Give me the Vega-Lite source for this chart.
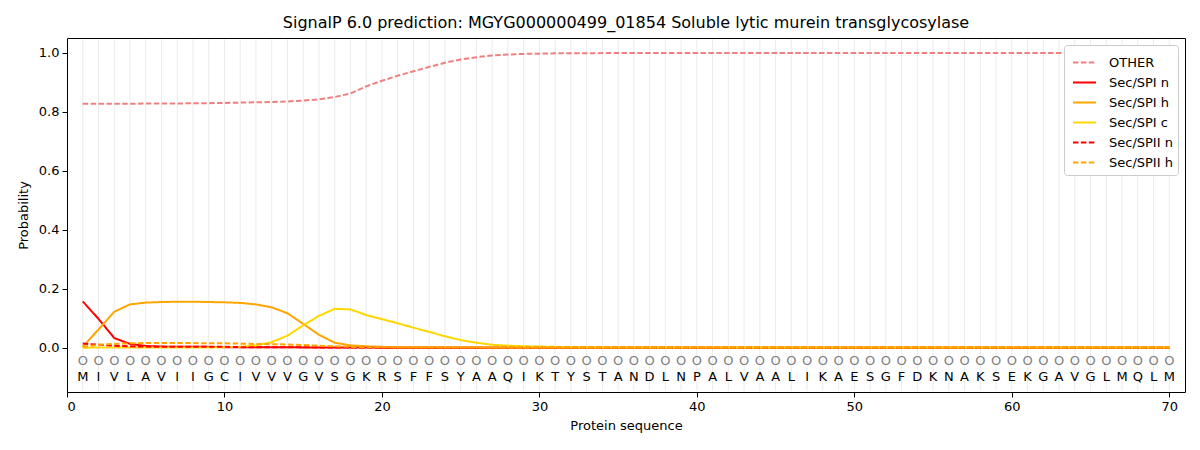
{
  "$schema": "https://vega.github.io/schema/vega-lite/v6.json",
  "width": 1118,
  "height": 354,
  "autosize": {"type": "none"},
  "padding": {"left": 67, "top": 38, "right": 15, "bottom": 58},
  "title": {"text": "SignalP 6.0 prediction: MGYG000000499_01854 Soluble lytic murein transglycosylase"},
  "data": {
    "values": [
      {"pos": 1, "aa": "M", "OTHER": 0.827, "Sec/SPI n": 0.157, "Sec/SPI h": 0.003, "Sec/SPI c": 0.0, "Sec/SPII n": 0.014, "Sec/SPII h": 0.003},
      {"pos": 2, "aa": "I", "OTHER": 0.827, "Sec/SPI n": 0.098, "Sec/SPI h": 0.062, "Sec/SPI c": 0.001, "Sec/SPII n": 0.01, "Sec/SPII h": 0.01},
      {"pos": 3, "aa": "V", "OTHER": 0.827, "Sec/SPI n": 0.033, "Sec/SPI h": 0.122, "Sec/SPI c": 0.001, "Sec/SPII n": 0.007, "Sec/SPII h": 0.013},
      {"pos": 4, "aa": "L", "OTHER": 0.827, "Sec/SPI n": 0.013, "Sec/SPI h": 0.147, "Sec/SPI c": 0.001, "Sec/SPII n": 0.005, "Sec/SPII h": 0.015},
      {"pos": 5, "aa": "A", "OTHER": 0.828, "Sec/SPI n": 0.006, "Sec/SPI h": 0.153, "Sec/SPI c": 0.001, "Sec/SPII n": 0.004, "Sec/SPII h": 0.016},
      {"pos": 6, "aa": "V", "OTHER": 0.828, "Sec/SPI n": 0.004, "Sec/SPI h": 0.155, "Sec/SPI c": 0.001, "Sec/SPII n": 0.003, "Sec/SPII h": 0.016},
      {"pos": 7, "aa": "I", "OTHER": 0.828, "Sec/SPI n": 0.003, "Sec/SPI h": 0.156, "Sec/SPI c": 0.001, "Sec/SPII n": 0.003, "Sec/SPII h": 0.016},
      {"pos": 8, "aa": "I", "OTHER": 0.829, "Sec/SPI n": 0.003, "Sec/SPI h": 0.156, "Sec/SPI c": 0.001, "Sec/SPII n": 0.003, "Sec/SPII h": 0.016},
      {"pos": 9, "aa": "G", "OTHER": 0.829, "Sec/SPI n": 0.003, "Sec/SPI h": 0.155, "Sec/SPI c": 0.001, "Sec/SPII n": 0.003, "Sec/SPII h": 0.015},
      {"pos": 10, "aa": "C", "OTHER": 0.83, "Sec/SPI n": 0.002, "Sec/SPI h": 0.154, "Sec/SPI c": 0.002, "Sec/SPII n": 0.003, "Sec/SPII h": 0.015},
      {"pos": 11, "aa": "I", "OTHER": 0.831, "Sec/SPI n": 0.002, "Sec/SPI h": 0.152, "Sec/SPI c": 0.003, "Sec/SPII n": 0.002, "Sec/SPII h": 0.014},
      {"pos": 12, "aa": "V", "OTHER": 0.832, "Sec/SPI n": 0.002, "Sec/SPI h": 0.147, "Sec/SPI c": 0.008, "Sec/SPII n": 0.002, "Sec/SPII h": 0.013},
      {"pos": 13, "aa": "V", "OTHER": 0.833, "Sec/SPI n": 0.002, "Sec/SPI h": 0.137, "Sec/SPI c": 0.019, "Sec/SPII n": 0.002, "Sec/SPII h": 0.012},
      {"pos": 14, "aa": "V", "OTHER": 0.835, "Sec/SPI n": 0.002, "Sec/SPI h": 0.117, "Sec/SPI c": 0.041, "Sec/SPII n": 0.002, "Sec/SPII h": 0.011},
      {"pos": 15, "aa": "G", "OTHER": 0.838, "Sec/SPI n": 0.001, "Sec/SPI h": 0.081, "Sec/SPI c": 0.076, "Sec/SPII n": 0.002, "Sec/SPII h": 0.009},
      {"pos": 16, "aa": "V", "OTHER": 0.842, "Sec/SPI n": 0.001, "Sec/SPI h": 0.044, "Sec/SPI c": 0.108, "Sec/SPII n": 0.001, "Sec/SPII h": 0.007},
      {"pos": 17, "aa": "S", "OTHER": 0.85, "Sec/SPI n": 0.001, "Sec/SPI h": 0.017, "Sec/SPI c": 0.132, "Sec/SPII n": 0.001, "Sec/SPII h": 0.005},
      {"pos": 18, "aa": "G", "OTHER": 0.862, "Sec/SPI n": 0.001, "Sec/SPI h": 0.008, "Sec/SPI c": 0.13, "Sec/SPII n": 0.001, "Sec/SPII h": 0.003},
      {"pos": 19, "aa": "K", "OTHER": 0.886, "Sec/SPI n": 0.001, "Sec/SPI h": 0.005, "Sec/SPI c": 0.111, "Sec/SPII n": 0.001, "Sec/SPII h": 0.002},
      {"pos": 20, "aa": "R", "OTHER": 0.905, "Sec/SPI n": 0.0, "Sec/SPI h": 0.003, "Sec/SPI c": 0.097, "Sec/SPII n": 0.0, "Sec/SPII h": 0.002},
      {"pos": 21, "aa": "S", "OTHER": 0.922, "Sec/SPI n": 0.0, "Sec/SPI h": 0.002, "Sec/SPI c": 0.083, "Sec/SPII n": 0.0, "Sec/SPII h": 0.001},
      {"pos": 22, "aa": "F", "OTHER": 0.937, "Sec/SPI n": 0.0, "Sec/SPI h": 0.002, "Sec/SPI c": 0.068, "Sec/SPII n": 0.0, "Sec/SPII h": 0.001},
      {"pos": 23, "aa": "F", "OTHER": 0.952, "Sec/SPI n": 0.0, "Sec/SPI h": 0.002, "Sec/SPI c": 0.054, "Sec/SPII n": 0.0, "Sec/SPII h": 0.001},
      {"pos": 24, "aa": "S", "OTHER": 0.966, "Sec/SPI n": 0.0, "Sec/SPI h": 0.001, "Sec/SPI c": 0.039, "Sec/SPII n": 0.0, "Sec/SPII h": 0.001},
      {"pos": 25, "aa": "Y", "OTHER": 0.977, "Sec/SPI n": 0.0, "Sec/SPI h": 0.001, "Sec/SPI c": 0.026, "Sec/SPII n": 0.0, "Sec/SPII h": 0.001},
      {"pos": 26, "aa": "A", "OTHER": 0.985, "Sec/SPI n": 0.0, "Sec/SPI h": 0.001, "Sec/SPI c": 0.017, "Sec/SPII n": 0.0, "Sec/SPII h": 0.001},
      {"pos": 27, "aa": "A", "OTHER": 0.991, "Sec/SPI n": 0.0, "Sec/SPI h": 0.001, "Sec/SPI c": 0.01, "Sec/SPII n": 0.0, "Sec/SPII h": 0.0},
      {"pos": 28, "aa": "Q", "OTHER": 0.994, "Sec/SPI n": 0.0, "Sec/SPI h": 0.001, "Sec/SPI c": 0.007, "Sec/SPII n": 0.0, "Sec/SPII h": 0.0},
      {"pos": 29, "aa": "I", "OTHER": 0.996, "Sec/SPI n": 0.0, "Sec/SPI h": 0.001, "Sec/SPI c": 0.005, "Sec/SPII n": 0.0, "Sec/SPII h": 0.0},
      {"pos": 30, "aa": "K", "OTHER": 0.997, "Sec/SPI n": 0.0, "Sec/SPI h": 0.001, "Sec/SPI c": 0.004, "Sec/SPII n": 0.0, "Sec/SPII h": 0.0},
      {"pos": 31, "aa": "T", "OTHER": 0.998, "Sec/SPI n": 0.0, "Sec/SPI h": 0.001, "Sec/SPI c": 0.003, "Sec/SPII n": 0.0, "Sec/SPII h": 0.0},
      {"pos": 32, "aa": "Y", "OTHER": 0.998, "Sec/SPI n": 0.0, "Sec/SPI h": 0.001, "Sec/SPI c": 0.002, "Sec/SPII n": 0.0, "Sec/SPII h": 0.0},
      {"pos": 33, "aa": "S", "OTHER": 0.998, "Sec/SPI n": 0.0, "Sec/SPI h": 0.001, "Sec/SPI c": 0.002, "Sec/SPII n": 0.0, "Sec/SPII h": 0.0},
      {"pos": 34, "aa": "T", "OTHER": 0.999, "Sec/SPI n": 0.0, "Sec/SPI h": 0.001, "Sec/SPI c": 0.002, "Sec/SPII n": 0.0, "Sec/SPII h": 0.0},
      {"pos": 35, "aa": "A", "OTHER": 0.999, "Sec/SPI n": 0.0, "Sec/SPI h": 0.001, "Sec/SPI c": 0.001, "Sec/SPII n": 0.0, "Sec/SPII h": 0.0},
      {"pos": 36, "aa": "N", "OTHER": 0.999, "Sec/SPI n": 0.0, "Sec/SPI h": 0.001, "Sec/SPI c": 0.001, "Sec/SPII n": 0.0, "Sec/SPII h": 0.0},
      {"pos": 37, "aa": "D", "OTHER": 0.999, "Sec/SPI n": 0.0, "Sec/SPI h": 0.001, "Sec/SPI c": 0.001, "Sec/SPII n": 0.0, "Sec/SPII h": 0.0},
      {"pos": 38, "aa": "L", "OTHER": 0.999, "Sec/SPI n": 0.0, "Sec/SPI h": 0.001, "Sec/SPI c": 0.001, "Sec/SPII n": 0.0, "Sec/SPII h": 0.0},
      {"pos": 39, "aa": "N", "OTHER": 0.999, "Sec/SPI n": 0.0, "Sec/SPI h": 0.001, "Sec/SPI c": 0.001, "Sec/SPII n": 0.0, "Sec/SPII h": 0.0},
      {"pos": 40, "aa": "P", "OTHER": 0.999, "Sec/SPI n": 0.0, "Sec/SPI h": 0.001, "Sec/SPI c": 0.001, "Sec/SPII n": 0.0, "Sec/SPII h": 0.0},
      {"pos": 41, "aa": "A", "OTHER": 0.999, "Sec/SPI n": 0.0, "Sec/SPI h": 0.001, "Sec/SPI c": 0.001, "Sec/SPII n": 0.0, "Sec/SPII h": 0.0},
      {"pos": 42, "aa": "L", "OTHER": 0.999, "Sec/SPI n": 0.0, "Sec/SPI h": 0.001, "Sec/SPI c": 0.001, "Sec/SPII n": 0.0, "Sec/SPII h": 0.0},
      {"pos": 43, "aa": "V", "OTHER": 0.999, "Sec/SPI n": 0.0, "Sec/SPI h": 0.001, "Sec/SPI c": 0.001, "Sec/SPII n": 0.0, "Sec/SPII h": 0.0},
      {"pos": 44, "aa": "A", "OTHER": 0.999, "Sec/SPI n": 0.0, "Sec/SPI h": 0.001, "Sec/SPI c": 0.001, "Sec/SPII n": 0.0, "Sec/SPII h": 0.0},
      {"pos": 45, "aa": "A", "OTHER": 0.999, "Sec/SPI n": 0.0, "Sec/SPI h": 0.001, "Sec/SPI c": 0.001, "Sec/SPII n": 0.0, "Sec/SPII h": 0.0},
      {"pos": 46, "aa": "L", "OTHER": 0.999, "Sec/SPI n": 0.0, "Sec/SPI h": 0.001, "Sec/SPI c": 0.001, "Sec/SPII n": 0.0, "Sec/SPII h": 0.0},
      {"pos": 47, "aa": "I", "OTHER": 0.999, "Sec/SPI n": 0.0, "Sec/SPI h": 0.001, "Sec/SPI c": 0.001, "Sec/SPII n": 0.0, "Sec/SPII h": 0.0},
      {"pos": 48, "aa": "K", "OTHER": 0.999, "Sec/SPI n": 0.0, "Sec/SPI h": 0.001, "Sec/SPI c": 0.001, "Sec/SPII n": 0.0, "Sec/SPII h": 0.0},
      {"pos": 49, "aa": "A", "OTHER": 0.999, "Sec/SPI n": 0.0, "Sec/SPI h": 0.001, "Sec/SPI c": 0.001, "Sec/SPII n": 0.0, "Sec/SPII h": 0.0},
      {"pos": 50, "aa": "E", "OTHER": 0.999, "Sec/SPI n": 0.0, "Sec/SPI h": 0.001, "Sec/SPI c": 0.001, "Sec/SPII n": 0.0, "Sec/SPII h": 0.0},
      {"pos": 51, "aa": "S", "OTHER": 0.999, "Sec/SPI n": 0.0, "Sec/SPI h": 0.001, "Sec/SPI c": 0.001, "Sec/SPII n": 0.0, "Sec/SPII h": 0.0},
      {"pos": 52, "aa": "G", "OTHER": 0.999, "Sec/SPI n": 0.0, "Sec/SPI h": 0.001, "Sec/SPI c": 0.001, "Sec/SPII n": 0.0, "Sec/SPII h": 0.0},
      {"pos": 53, "aa": "F", "OTHER": 0.999, "Sec/SPI n": 0.0, "Sec/SPI h": 0.001, "Sec/SPI c": 0.001, "Sec/SPII n": 0.0, "Sec/SPII h": 0.0},
      {"pos": 54, "aa": "D", "OTHER": 0.999, "Sec/SPI n": 0.0, "Sec/SPI h": 0.001, "Sec/SPI c": 0.001, "Sec/SPII n": 0.0, "Sec/SPII h": 0.0},
      {"pos": 55, "aa": "K", "OTHER": 0.999, "Sec/SPI n": 0.0, "Sec/SPI h": 0.001, "Sec/SPI c": 0.001, "Sec/SPII n": 0.0, "Sec/SPII h": 0.0},
      {"pos": 56, "aa": "N", "OTHER": 0.999, "Sec/SPI n": 0.0, "Sec/SPI h": 0.001, "Sec/SPI c": 0.001, "Sec/SPII n": 0.0, "Sec/SPII h": 0.0},
      {"pos": 57, "aa": "A", "OTHER": 0.999, "Sec/SPI n": 0.0, "Sec/SPI h": 0.001, "Sec/SPI c": 0.001, "Sec/SPII n": 0.0, "Sec/SPII h": 0.0},
      {"pos": 58, "aa": "K", "OTHER": 0.999, "Sec/SPI n": 0.0, "Sec/SPI h": 0.001, "Sec/SPI c": 0.001, "Sec/SPII n": 0.0, "Sec/SPII h": 0.0},
      {"pos": 59, "aa": "S", "OTHER": 0.999, "Sec/SPI n": 0.0, "Sec/SPI h": 0.001, "Sec/SPI c": 0.001, "Sec/SPII n": 0.0, "Sec/SPII h": 0.0},
      {"pos": 60, "aa": "E", "OTHER": 0.999, "Sec/SPI n": 0.0, "Sec/SPI h": 0.001, "Sec/SPI c": 0.001, "Sec/SPII n": 0.0, "Sec/SPII h": 0.0},
      {"pos": 61, "aa": "K", "OTHER": 0.999, "Sec/SPI n": 0.0, "Sec/SPI h": 0.001, "Sec/SPI c": 0.001, "Sec/SPII n": 0.0, "Sec/SPII h": 0.0},
      {"pos": 62, "aa": "G", "OTHER": 0.999, "Sec/SPI n": 0.0, "Sec/SPI h": 0.001, "Sec/SPI c": 0.001, "Sec/SPII n": 0.0, "Sec/SPII h": 0.0},
      {"pos": 63, "aa": "A", "OTHER": 0.999, "Sec/SPI n": 0.0, "Sec/SPI h": 0.001, "Sec/SPI c": 0.001, "Sec/SPII n": 0.0, "Sec/SPII h": 0.0},
      {"pos": 64, "aa": "V", "OTHER": 0.999, "Sec/SPI n": 0.0, "Sec/SPI h": 0.001, "Sec/SPI c": 0.001, "Sec/SPII n": 0.0, "Sec/SPII h": 0.0},
      {"pos": 65, "aa": "G", "OTHER": 0.999, "Sec/SPI n": 0.0, "Sec/SPI h": 0.001, "Sec/SPI c": 0.001, "Sec/SPII n": 0.0, "Sec/SPII h": 0.0},
      {"pos": 66, "aa": "L", "OTHER": 0.999, "Sec/SPI n": 0.0, "Sec/SPI h": 0.001, "Sec/SPI c": 0.001, "Sec/SPII n": 0.0, "Sec/SPII h": 0.0},
      {"pos": 67, "aa": "M", "OTHER": 0.999, "Sec/SPI n": 0.0, "Sec/SPI h": 0.001, "Sec/SPI c": 0.001, "Sec/SPII n": 0.0, "Sec/SPII h": 0.0},
      {"pos": 68, "aa": "Q", "OTHER": 0.999, "Sec/SPI n": 0.0, "Sec/SPI h": 0.001, "Sec/SPI c": 0.001, "Sec/SPII n": 0.0, "Sec/SPII h": 0.0},
      {"pos": 69, "aa": "L", "OTHER": 0.999, "Sec/SPI n": 0.0, "Sec/SPI h": 0.001, "Sec/SPI c": 0.001, "Sec/SPII n": 0.0, "Sec/SPII h": 0.0},
      {"pos": 70, "aa": "M", "OTHER": 0.999, "Sec/SPI n": 0.0, "Sec/SPI h": 0.001, "Sec/SPI c": 0.001, "Sec/SPII n": 0.0, "Sec/SPII h": 0.0}
    ]
  },
  "encoding": {
    "x": {
      "field": "pos",
      "type": "quantitative",
      "scale": {"domain": [0, 71], "nice": false, "zero": false},
      "axis": {"values": [0, 10, 20, 30, 40, 50, 60, 70], "title": "Protein sequence", "titlePadding": 6}
    }
  },
  "layer": [
    {
      "mark": {"type": "rule", "color": "#ebebeb", "strokeWidth": 1},
      "encoding": {
        "y": {"datum": 1.046, "type": "quantitative"},
        "y2": {"datum": -0.146}
      }
    },
    {
      "mark": {"type": "text", "text": "O", "color": "#808080", "fontSize": 13, "baseline": "middle"},
      "encoding": {"y": {"datum": -0.045, "type": "quantitative"}}
    },
    {
      "mark": {"type": "text", "color": "black", "fontSize": 13, "baseline": "middle"},
      "encoding": {
        "y": {"datum": -0.1, "type": "quantitative"},
        "text": {"field": "aa"}
      }
    },
    {
      "transform": [
        {"fold": ["OTHER", "Sec/SPI n", "Sec/SPI h", "Sec/SPI c", "Sec/SPII n", "Sec/SPII h"], "as": ["type", "prob"]}
      ],
      "mark": {"type": "line", "strokeWidth": 2},
      "encoding": {
        "y": {
          "field": "prob",
          "type": "quantitative",
          "scale": {"domain": [-0.15, 1.05], "nice": false, "zero": false},
          "axis": {"values": [0, 0.2, 0.4, 0.6, 0.8, 1.0], "format": ".1f", "title": "Probability", "titlePadding": 8}
        },
        "color": {
          "field": "type",
          "type": "nominal",
          "scale": {
            "domain": ["OTHER", "Sec/SPI n", "Sec/SPI h", "Sec/SPI c", "Sec/SPII n", "Sec/SPII h"],
            "range": ["#f08080", "#ff0000", "#ffa500", "#ffd700", "#ff0000", "#ffa500"]
          },
          "legend": {"title": null}
        },
        "strokeDash": {
          "field": "type",
          "type": "nominal",
          "scale": {
            "domain": ["OTHER", "Sec/SPI n", "Sec/SPI h", "Sec/SPI c", "Sec/SPII n", "Sec/SPII h"],
            "range": [[5.5, 2.4], [1, 0], [1, 0], [1, 0], [5.5, 2.4], [5.5, 2.4]]
          },
          "legend": {"title": null}
        }
      }
    }
  ],
  "config": {
    "font": "DejaVu Sans",
    "view": {"stroke": "black", "strokeWidth": 1},
    "title": {"fontSize": 16, "fontWeight": "normal", "color": "black", "anchor": "middle", "offset": 7},
    "axis": {
      "grid": false,
      "domain": false,
      "tickColor": "black",
      "tickSize": 5,
      "labelColor": "black",
      "labelFontSize": 13,
      "labelPadding": 3,
      "titleFontSize": 13,
      "titleFontWeight": "normal",
      "titleColor": "black"
    },
    "legend": {
      "orient": "top-right",
      "offset": 7,
      "fillColor": "white",
      "strokeColor": "#cccccc",
      "cornerRadius": 3,
      "padding": 5,
      "symbolOffset": 3,
      "labelFontSize": 13,
      "labelColor": "black",
      "symbolType": "stroke",
      "symbolSize": 529,
      "symbolStrokeWidth": 2,
      "labelOffset": 12,
      "rowPadding": -2
    }
  }
}
